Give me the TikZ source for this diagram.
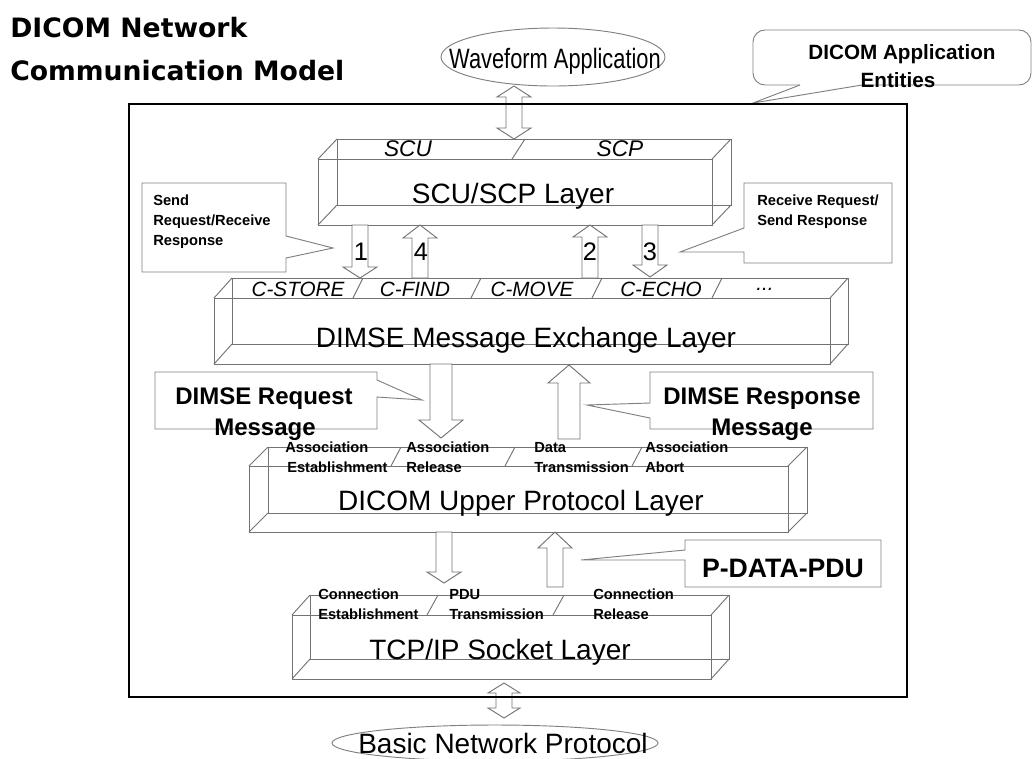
\documentclass[tikz,border=0pt]{standalone}
\usepackage{fontspec}
\setmainfont{Liberation Sans}
\newfontfamily\titlefont{DejaVu Sans}

% 3-D layer: front face (x1,y1)-(x2,y2), back face shifted by (dx,-dy)
\newcommand\layerbox[7]{%
  \draw[boxedge] (#2,#3) rectangle (#4,#5);
  \draw[boxedge] ({#2+#6},{#3-#7}) rectangle ({#4+#6},{#5-#7});
  \draw[boxedge] (#2,#3) -- ++(#6,-#7) (#4,#3) -- ++(#6,-#7)
                 (#4,#5) -- ++(#6,-#7) (#2,#5) -- ++(#6,-#7);
  \coordinate (#1) at ({(#2+#4)/2},{(#3+#5)/2});
}
% divider on a top face, from the front edge to the back edge
\newcommand\divider[4]{\draw[boxedge] (#1,#2) -- ++(#3,-#4);}
% hollow block arrow: x, tail y, head-base y, tip y, shaft half-width, head half-width
\newcommand\blockarrow[7]{%
  \draw[blockarr] ({#2-#6},#3) -- ({#2-#6},#4) -- ({#2-#7},#4) -- (#2,#5)
     -- ({#2+#7},#4) -- ({#2+#6},#4) -- ({#2+#6},#3) -- cycle;
  \coordinate (#1) at (#2,{(#3+#5)/2});
}
% hollow double-headed arrow: x, top tip, top base, bottom base, bottom tip, half-widths
\newcommand\doublearrow[8]{%
  \draw[blockarr] (#2,#3) -- ({#2+#8},#4) -- ({#2+#7},#4) -- ({#2+#7},#5)
     -- ({#2+#8},#5) -- (#2,#6) -- ({#2-#8},#5) -- ({#2-#7},#5)
     -- ({#2-#7},#4) -- ({#2-#8},#4) -- cycle;
  \coordinate (#1) at (#2,{(#3+#6)/2});
}

\tikzset{
  boxedge/.style={draw=black!55, line width=0.7pt},
  blockarr/.style={draw=black!55, fill=white, line width=0.7pt},
  bubble/.style={draw=black!50, line width=0.7pt},
  layertext/.style={font=\fontsize{21}{25}\selectfont, inner sep=0pt, anchor=base},
  facetext/.style={font=\fontsize{15.5}{18}\selectfont\itshape, inner sep=0pt, anchor=base},
  roletext/.style={font=\fontsize{17}{20}\selectfont\itshape, inner sep=0pt, anchor=base},
  smalltext/.style={font=\fontsize{11}{13}\selectfont\bfseries, inner sep=0pt, anchor=base west},
  msgtext/.style={font=\fontsize{18}{24}\selectfont\bfseries, inner sep=0pt, anchor=base},
  numtext/.style={font=\fontsize{19}{22}\selectfont, inner sep=0pt, anchor=base},
  titletext/.style={font=\titlefont\bfseries\fontsize{20}{24}\selectfont, inner sep=0pt, anchor=base west},
}

\begin{document}
\begin{tikzpicture}[x=0.75pt,y=-0.75pt]
\useasboundingbox (0,0) rectangle (1034,758);

% title
\node[titletext] (title1) at (10,37) {DICOM Network};
\node[titletext] (title2) at (10,80) {Communication Model};

% application and network ends
\draw[bubble] (553,57) ellipse [x radius=112, y radius=29];
\node[layertext] (wave) at (555,68) {\scalebox{0.78}[1]{Waveform Application}};
\draw[bubble] (495,743) ellipse [x radius=163, y radius=18];
\node[layertext] (basic) at (503,753) {Basic Network Protocol};

% application entities note
\draw[bubble, rounded corners=9] (800,85) -- (753,85) -- (753,30) -- (1031,30) -- (1031,85) -- (862,85);
\draw[bubble] (800,85) -- (753,103) -- (862,85);
\node[msgtext, font=\fontsize{15.5}{21}\selectfont\bfseries] (entities1) at (902,59) {DICOM Application};
\node[msgtext, font=\fontsize{15.5}{21}\selectfont\bfseries] (entities2) at (898,87) {Entities};

% layers
\layerbox{scuBox}{318}{159}{712}{225}{19}{20}
\divider{512}{159}{13}{20}
\layerbox{dimseBox}{214}{298}{830}{364}{18}{20}
\divider{353}{298}{10}{20}
\divider{471}{298}{10}{20}
\divider{592}{298}{10}{20}
\divider{712}{298}{10}{20}
\layerbox{upperBox}{249}{466}{788}{532}{19}{19}
\divider{391}{466}{10}{19}
\divider{505}{466}{10}{19}
\divider{632}{466}{10}{19}
\layerbox{tcpBox}{292}{615}{711}{679}{18}{20}
\divider{427}{615}{11}{20}
\divider{553}{615}{11}{20}

% layer captions
\node[roletext] (scu) at (408,156) {SCU};
\node[roletext] (scp) at (620,156) {SCP};
\node[layertext] (scuL) at (513,203) {SCU/SCP Layer};

\node[facetext] (cstore) at (298,296) {C-STORE};
\node[facetext] (cfind) at (415,296) {C-FIND};
\node[facetext] (cmove) at (532,296) {C-MOVE};
\node[facetext] (cecho) at (661,296) {C-ECHO};
\node[facetext] (cmore) at (765,290) {...};
\node[layertext] (dimseL) at (526,347) {DIMSE Message Exchange Layer};

\node[smalltext] (ae1) at (285,452) {Association};
\node[smalltext] (ae2) at (287,472) {Establishment};
\node[smalltext] (ar1) at (406,452) {Association};
\node[smalltext] (ar2) at (406,472) {Release};
\node[smalltext] (dt1) at (534,452) {Data};
\node[smalltext] (dt2) at (534,472) {Transmission};
\node[smalltext] (aa1) at (645,452) {Association};
\node[smalltext] (aa2) at (645,472) {Abort};
\node[layertext] (upperL) at (521,510) {DICOM Upper Protocol Layer};

\node[smalltext] (ce1) at (318,599) {Connection};
\node[smalltext] (ce2) at (318,619) {Establishment};
\node[smalltext] (pt1) at (449,599) {PDU};
\node[smalltext] (pt2) at (449,619) {Transmission};
\node[smalltext] (cr1) at (593,599) {Connection};
\node[smalltext] (cr2) at (593,619) {Release};
\node[layertext] (tcpL) at (500,659) {TCP/IP Socket Layer};

% arrows between layers
\doublearrow{waveArrow}{514}{86}{97}{128}{139}{8}{17}
\blockarrow{a1}{360}{225}{267}{278}{8}{17}
\blockarrow{a4}{420}{278}{238}{225}{8}{17}
\blockarrow{a2}{590}{278}{237}{225}{8}{17}
\blockarrow{a3}{650}{225}{265}{277}{8}{17}
\node[numtext] (n1) at (361,260) {1};
\node[numtext] (n4) at (421,260) {4};
\node[numtext] (n2) at (590,260) {2};
\node[numtext] (n3) at (650,260) {3};

\blockarrow{req}{441}{364}{420}{438}{11}{22}
\blockarrow{rsp}{569}{439}{383}{365}{11}{21}
\blockarrow{down}{444}{532}{572}{583}{8}{17}
\blockarrow{pdata}{555}{587}{548}{532}{8}{17}
\doublearrow{netArrow}{504}{683}{693}{708}{718}{8}{16}

% notes
\draw[bubble] (142,183) -- (286,183) -- (286,236) -- (333,248) -- (286,258) -- (286,272) -- (142,272) -- cycle;
\node[smalltext] (send1) at (153,205) {Send};
\node[smalltext] (send2) at (153,225) {Request/Receive};
\node[smalltext] (send3) at (153,245) {Response};
\draw[bubble] (744,183) -- (892,183) -- (892,263) -- (744,263) -- (744,252) -- (680,252) -- (744,228) -- cycle;
\node[smalltext] (recv1) at (757,205) {Receive Request/};
\node[smalltext] (recv2) at (757,225) {Send Response};

\draw[bubble] (155,372) -- (377,372) -- (377,380) -- (422,400) -- (377,397) -- (377,429) -- (155,429) -- cycle;
\node[msgtext] (req1) at (264,404) {DIMSE Request};
\node[msgtext] (req2) at (265,435) {Message};
\draw[bubble] (650,372) -- (873,372) -- (873,429) -- (650,429) -- (650,418) -- (587,405) -- (650,403) -- cycle;
\node[msgtext] (rsp1) at (762,404) {DIMSE Response};
\node[msgtext] (rsp2) at (762,435) {Message};

\draw[bubble] (685,540) -- (881,540) -- (881,587) -- (685,587) -- (685,560) -- (581,560) -- (685,550) -- cycle;
\node[msgtext, font=\fontsize{20}{24}\selectfont\bfseries] (pduNote) at (783,577) {P-DATA-PDU};

% application entity frame
\draw[line width=2.2pt] (129,104) rectangle (907,697);
\end{tikzpicture}
\end{document}
